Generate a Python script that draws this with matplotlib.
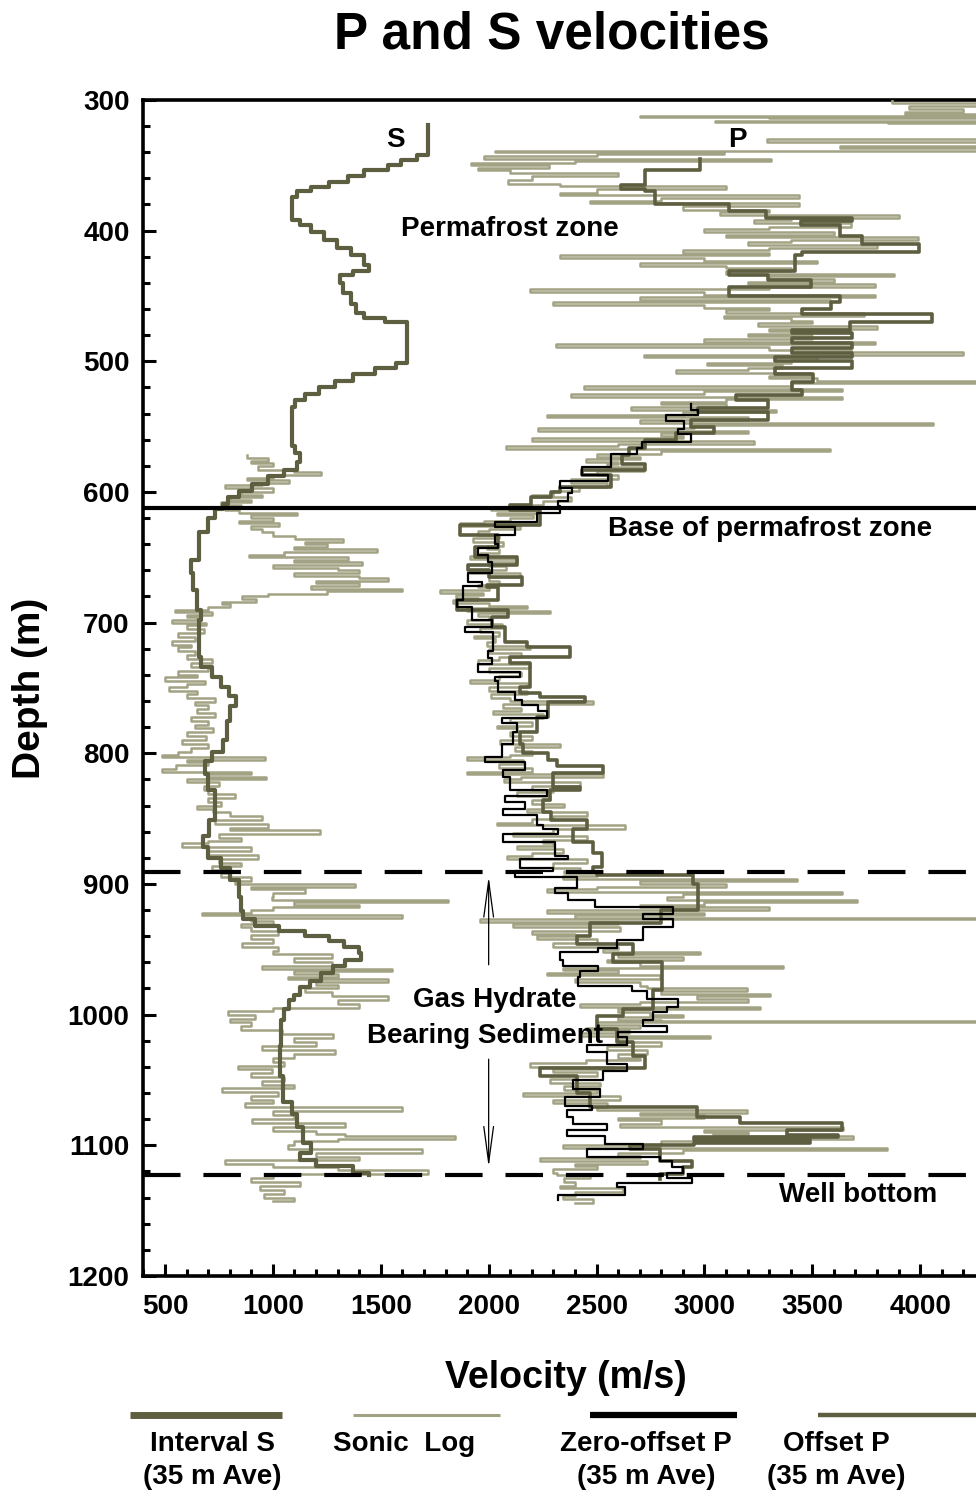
import numpy as np
import matplotlib.pyplot as plt
from matplotlib.lines import Line2D

plt.rcParams['font.family'] = ['Liberation Sans', 'DejaVu Sans']
plt.rcParams['font.weight'] = 'bold'

DARK = '#5e5e40'
LIGHT = '#a2a284'

# (depth m, velocity m/s) -- velocity changes to the given value at that depth
interval_s = [
    (319, 1719), (342, 1668), (346, 1594), (350, 1533), (354, 1422), (358, 1348),
    (363, 1260), (367, 1177), (370, 1112), (374, 1089), (392, 1126), (396, 1177),
    (401, 1237), (407, 1297), (413, 1362), (419, 1422), (426, 1445), (431, 1371),
    (434, 1311), (440, 1325), (448, 1362), (456, 1385), (463, 1422), (467, 1519),
    (470, 1621), (501, 1570), (505, 1473), (510, 1371), (515, 1288), (520, 1214),
    (525, 1149), (530, 1102), (535, 1089), (565, 1102), (570, 1126), (577, 1112),
    (583, 1051), (588, 977), (594, 903), (599, 843), (604, 792), (609, 769),
    (613, 732), (620, 700), (631, 658), (652, 620), (662, 630), (675, 650),
    (690, 667), (698, 658), (726, 665), (734, 718), (742, 760), (749, 795),
    (756, 830), (764, 800), (775, 785), (790, 770), (799, 718), (806, 685),
    (816, 700), (828, 732), (840, 730), (851, 705), (863, 676), (872, 700),
    (880, 760), (888, 800), (897, 843), (910, 850), (921, 860), (927, 917),
    (932, 1028), (936, 1149), (940, 1260), (944, 1330), (948, 1399), (953, 1408),
    (958, 1334), (963, 1280), (968, 1223), (974, 1170), (979, 1126), (985, 1100),
    (989, 1075), (996, 1050), (1004, 1038), (1024, 1033), (1047, 1047),
    (1067, 1089), (1076, 1110), (1086, 1139), (1098, 1177), (1106, 1126),
    (1111, 1200), (1116, 1371), (1121, 1445), (1123, 1445),
]

offset_p = [
    (345, 2979), (354, 2724), (365, 2613), (368, 2724), (370, 2771), (380, 3114),
    (385, 3285), (390, 3684), (393, 3447), (396, 3628), (404, 3730), (410, 3994),
    (416, 3452), (419, 3419), (431, 3114), (434, 3294), (438, 3494), (443, 3114),
    (450, 3628), (455, 3586), (460, 3452), (464, 4054), (470, 3674), (476, 3405),
    (478, 3684), (482, 3405), (486, 3684), (490, 3405), (494, 3684), (497, 3327),
    (500, 3684), (505, 3327), (510, 3503), (516, 3405), (522, 3452), (526, 3146),
    (530, 3294), (536, 2970), (539, 3294), (545, 2938), (550, 3044), (555, 2868),
    (560, 2724), (566, 2650), (572, 2620), (579, 2724), (583, 2432), (587, 2567),
    (596, 2330), (600, 2289), (604, 2196), (610, 2100), (614, 2238), (625, 1867),
    (633, 2043), (642, 1937), (650, 2131), (656, 1904), (660, 2000), (665, 2154),
    (671, 1992), (673, 2043), (683, 1853), (690, 2089), (696, 2015), (703, 2076),
    (715, 2177), (719, 2377), (726, 2099), (731, 2191), (749, 2145), (754, 2238),
    (757, 2446), (761, 2275), (772, 2224), (784, 2145), (793, 2159), (800, 2275),
    (805, 2317), (810, 2530), (815, 2298), (826, 2423), (828, 2284), (836, 2252),
    (845, 2290), (851, 2456), (858, 2391), (868, 2483), (876, 2525), (887, 2483),
    (891, 2502), (893, 2947), (900, 2970), (920, 2800), (930, 2469), (940, 2409),
    (946, 2669), (954, 2576), (960, 2803), (981, 2761), (996, 2622), (1001, 2502),
    (1011, 2595), (1021, 2669), (1032, 2724), (1041, 2238), (1047, 2409),
    (1060, 2469), (1071, 2965), (1078, 3165), (1083, 3637), (1088, 3382),
    (1092, 3619), (1094, 2950), (1096, 3489), (1098, 2950), (1100, 2655),
    (1103, 2794), (1112, 2942), (1117, 2900), (1122, 2794), (1126, 2794),
]

zero_offset_p = [
    (533, 2938), (537, 2970), (541, 2822), (546, 2905), (552, 2877), (556, 2938),
    (562, 2710), (566, 2687), (571, 2567), (581, 2432), (587, 2553), (592, 2330),
    (597, 2386), (601, 2367), (607, 2321), (611, 2330), (616, 2224), (623, 2029),
    (627, 2122), (633, 2029), (640, 2043), (643, 1950), (648, 1997), (654, 2015),
    (662, 1904), (669, 1969), (672, 1881), (683, 1853), (688, 1923), (698, 2015),
    (703, 1890), (707, 2020), (722, 1997), (727, 2015), (732, 1950), (738, 2145),
    (742, 2029), (745, 2043), (753, 2122), (759, 2154), (763, 2228), (768, 2270),
    (773, 2061), (777, 2131), (784, 2112), (793, 2061), (803, 1983), (807, 2168),
    (813, 2066), (818, 2099), (828, 2270), (833, 2076), (837, 2168), (843, 2066),
    (847, 2224), (855, 2252), (858, 2321), (862, 2066), (868, 2307), (879, 2367),
    (881, 2145), (888, 2300), (890, 2122), (895, 2409), (903, 2307), (907, 2367),
    (912, 2493), (918, 2854), (923, 2715), (927, 2854), (933, 2715), (943, 2595),
    (949, 2507), (952, 2330), (958, 2344), (963, 2507), (967, 2423), (971, 2414),
    (978, 2664), (982, 2734), (988, 2877), (994, 2826), (998, 2761), (1004, 2715),
    (1009, 2826), (1013, 2599), (1017, 2641), (1023, 2456), (1029, 2548),
    (1038, 2641), (1043, 2530), (1050, 2391), (1057, 2516), (1063, 2354),
    (1070, 2479), (1073, 2363), (1078, 2391), (1084, 2548), (1088, 2363),
    (1093, 2539), (1099, 2715), (1103, 2456), (1109, 2794), (1112, 2849),
    (1117, 2900), (1121, 2826), (1125, 2942), (1129, 2595), (1132, 2632),
    (1138, 2321), (1142, 2321),
]

sonic_p = [
    (300, 3870), (302, 4400), (305, 3950), (307, 4200), (309, 3930), (311, 4400),
    (312, 2700), (313, 3300), (314, 4400), (316, 3050), (317, 3850), (318, 4400),
    (330, 3290), (332, 4400), (335, 3630), (337, 4400), (339, 2030), (340, 3090),
    (341, 2500), (343, 1980), (345, 3310), (347, 2400), (348, 1920), (350, 2280),
    (352, 1950), (354, 2100), (356, 2600), (358, 2200), (361, 2090), (364, 2330),
    (366, 3100), (368, 2500), (371, 2330), (373, 3440), (375, 2800), (377, 2470),
    (379, 3440), (381, 2900), (384, 3300), (386, 3070), (388, 3900), (390, 3400),
    (392, 3230), (394, 3680), (397, 3300), (399, 3000), (401, 3600), (403, 3100),
    (405, 3990), (407, 3400), (409, 3200), (411, 3800), (413, 3300), (415, 2900),
    (417, 3300), (419, 2330), (421, 3000), (423, 3520), (425, 2700), (427, 3100),
    (429, 3400), (431, 3100), (433, 3880), (435, 3300), (437, 3600), (439, 3200),
    (441, 3790), (443, 3300), (445, 2190), (447, 3000), (449, 3790), (451, 2700),
    (453, 3580), (455, 2300), (457, 3000), (459, 3300), (461, 3100), (463, 3740),
    (465, 3090), (467, 3400), (469, 3500), (471, 3250), (473, 3800), (475, 3300),
    (477, 3500), (479, 3200), (481, 3500), (483, 3000), (485, 3790), (487, 2310),
    (489, 3300), (491, 3680), (493, 4200), (495, 2720), (497, 3520), (499, 3400),
    (501, 3010), (503, 3360), (505, 3200), (507, 2870), (509, 3490), (511, 3300),
    (513, 3520), (515, 4400), (517, 3400), (519, 2440), (521, 3640), (523, 3000),
    (525, 2380), (527, 3640), (529, 3100), (531, 2800), (533, 3100), (535, 2660),
    (537, 3330), (539, 2900), (541, 2270), (543, 3200), (545, 2700), (547, 4060),
    (549, 2950), (551, 2230), (553, 3200), (555, 2800), (557, 2900), (559, 2200),
    (561, 3230), (563, 2600), (565, 2080), (567, 3580), (569, 2800), (571, 2500),
    (573, 2700), (575, 2450), (577, 2600), (579, 2550), (581, 2720), (584, 2500),
    (587, 2600), (590, 2380), (593, 2550), (596, 2420), (599, 2300), (602, 2200),
    (604, 2380), (607, 2250), (610, 2150), (612, 2010), (614, 2230), (616, 2037),
    (618, 2207), (620, 2100), (622, 1980), (624, 1867), (626, 2146), (628, 2000),
    (630, 1950), (633, 2050), (635, 1929), (638, 2068), (641, 1990), (644, 2050),
    (647, 1960), (649, 1914), (651, 2130), (654, 2000), (657, 2080), (660, 1914),
    (662, 2146), (665, 2000), (668, 2050), (671, 1950), (673, 2000), (675, 1775),
    (677, 1976), (679, 1850), (681, 1950), (683, 1837), (685, 2000), (687, 2180),
    (689, 1900), (691, 2285), (693, 1950), (695, 2000), (698, 1900), (701, 2060),
    (704, 1960), (707, 2050), (710, 1930), (712, 2030), (715, 1990), (718, 2190),
    (720, 2000), (723, 2150), (726, 2050), (729, 1950), (732, 2190), (735, 2000),
    (738, 2150), (741, 2050), (744, 1914), (746, 2180), (749, 2000), (752, 2180),
    (755, 2010), (758, 2100), (760, 2485), (762, 2068), (765, 2150), (768, 2020),
    (770, 2250), (773, 2100), (776, 2200), (779, 2040), (781, 2130), (784, 2100),
    (787, 2200), (790, 2053), (793, 2331), (795, 2120), (798, 2200), (801, 2100),
    (803, 1898), (805, 2161), (808, 2050), (811, 2200), (814, 1898), (816, 2532),
    (818, 2150), (820, 2069), (822, 2425), (825, 2200), (828, 2300), (830, 2130),
    (833, 2284), (836, 2200), (839, 2350), (841, 2250), (843, 2176), (845, 2455),
    (848, 2300), (850, 2200), (853, 2037), (855, 2632), (858, 2300), (861, 2114),
    (863, 2455), (866, 2250), (869, 2300), (871, 2130), (873, 2346), (876, 2200),
    (879, 2084), (881, 2455), (884, 2300), (886, 2300), (888, 2424), (890, 2350),
    (892, 2500), (894, 2346), (896, 3428), (898, 2700), (900, 3100), (902, 2500),
    (904, 2269), (906, 3636), (908, 2900), (910, 2825), (912, 3706), (914, 3000),
    (916, 2700), (918, 3300), (920, 2269), (922, 3000), (924, 2400), (926, 4400),
    (927, 1960), (929, 2600), (931, 2115), (933, 2609), (936, 2200), (938, 2400),
    (940, 2223), (942, 2500), (945, 2300), (948, 2600), (950, 2532), (952, 2980),
    (954, 2600), (956, 2900), (958, 2550), (960, 2700), (963, 3366), (964, 2346),
    (966, 2600), (968, 2269), (970, 2794), (973, 2400), (975, 2700), (978, 2733),
    (980, 3196), (982, 2800), (984, 3304), (986, 2964), (988, 3200), (990, 2700),
    (992, 2423), (994, 3258), (996, 2600), (998, 2750), (1000, 2900), (1002, 2600),
    (1004, 2800), (1005, 4400), (1006, 2500), (1008, 2700), (1010, 2450),
    (1012, 2650), (1014, 2424), (1016, 3026), (1018, 2600), (1021, 2800),
    (1024, 2547), (1027, 2733), (1030, 2600), (1033, 2700), (1035, 2450),
    (1037, 2192), (1040, 2578), (1042, 2300), (1044, 2500), (1047, 2400),
    (1049, 2284), (1052, 2516), (1055, 2350), (1058, 2500), (1060, 2161),
    (1062, 2609), (1065, 2300), (1068, 2550), (1071, 2501), (1073, 3196),
    (1075, 2700), (1077, 3000), (1079, 2600), (1081, 2800), (1084, 2609),
    (1086, 3644), (1088, 3000), (1090, 3200), (1091, 3042), (1093, 3690),
    (1095, 3100), (1097, 2800), (1100, 2346), (1102, 3845), (1104, 2900),
    (1106, 2600), (1108, 2700), (1110, 2238), (1112, 2733), (1114, 2400),
    (1116, 2500), (1118, 2300), (1121, 2315), (1123, 2470), (1125, 2350),
    (1128, 2400), (1131, 2331), (1133, 2624), (1136, 2400), (1139, 2346),
    (1141, 2485), (1144, 2400),
]

sonic_s = [
    (572, 880), (574, 977), (576, 900), (578, 1000), (580, 930), (583, 1100),
    (585, 1223), (587, 1000), (589, 880), (591, 1075), (593, 950), (595, 778),
    (597, 1000), (600, 850), (602, 950), (604, 800), (606, 900), (608, 760),
    (610, 850), (612, 780), (614, 843), (616, 1112), (618, 900), (620, 1000),
    (622, 843), (624, 1028), (626, 900), (628, 950), (631, 1000), (634, 1102),
    (636, 1325), (638, 1150), (640, 1250), (642, 1100), (644, 1482), (646, 1051),
    (648, 889), (650, 1348), (652, 1100), (654, 1411), (656, 1000), (658, 1300),
    (660, 1399), (662, 1100), (664, 1400), (666, 1533), (668, 1200), (670, 1400),
    (672, 1177), (674, 1597), (676, 1250), (678, 979), (680, 855), (682, 920),
    (684, 762), (686, 800), (688, 700), (690, 546), (692, 716), (694, 600),
    (696, 650), (698, 532), (700, 690), (702, 600), (705, 680), (708, 560),
    (711, 639), (714, 531), (717, 620), (719, 560), (722, 640), (725, 600),
    (728, 716), (731, 620), (734, 700), (737, 560), (740, 650), (742, 500),
    (745, 685), (747, 600), (749, 520), (752, 650), (755, 600), (758, 730),
    (761, 640), (763, 700), (766, 650), (769, 730), (772, 620), (775, 700),
    (778, 640), (781, 720), (784, 600), (787, 690), (790, 577), (793, 700),
    (796, 620), (799, 560), (801, 484), (803, 963), (805, 600), (807, 700),
    (809, 550), (812, 484), (814, 900), (816, 700), (818, 970), (820, 600),
    (822, 750), (825, 680), (828, 700), (831, 823), (834, 700), (837, 760),
    (840, 650), (843, 720), (845, 800), (848, 950), (851, 730), (854, 978),
    (857, 800), (859, 1218), (862, 750), (865, 850), (867, 700), (869, 577),
    (872, 900), (875, 700), (878, 930), (881, 750), (884, 850), (886, 716),
    (889, 808), (892, 760), (895, 900), (898, 824), (900, 1380), (902, 900),
    (904, 1150), (907, 1000), (910, 994), (912, 1813), (914, 1100), (916, 1400),
    (918, 1000), (920, 900), (922, 670), (924, 1597), (926, 900), (928, 1000),
    (931, 850), (933, 900), (936, 1025), (939, 900), (942, 1000), (945, 855),
    (948, 1025), (951, 1000), (954, 1272), (957, 1100), (960, 1272), (963, 948),
    (965, 1550), (967, 1100), (969, 1300), (971, 1071), (973, 1535), (975, 1200),
    (977, 1300), (980, 1150), (983, 1272), (986, 1535), (989, 1300), (992, 1400),
    (995, 1000), (997, 793), (1000, 917), (1003, 800), (1006, 900), (1009, 850),
    (1012, 1040), (1015, 1280), (1018, 1100), (1021, 1200), (1024, 948),
    (1027, 1287), (1030, 1100), (1033, 1000), (1036, 1050), (1039, 840),
    (1042, 994), (1045, 900), (1048, 1050), (1051, 950), (1054, 1100), (1056, 762),
    (1059, 1025), (1062, 900), (1065, 1000), (1068, 870), (1071, 1597),
    (1074, 1000), (1077, 1100), (1080, 901), (1083, 1334), (1086, 1000),
    (1089, 1200), (1091, 1334), (1093, 1844), (1095, 1300), (1097, 1100),
    (1100, 1071), (1103, 1690), (1106, 1200), (1109, 1400), (1111, 778),
    (1114, 1000), (1117, 1300), (1119, 1719), (1122, 1000), (1125, 900),
    (1128, 1126), (1131, 940), (1134, 1050), (1137, 960), (1140, 1100),
    (1143, 1000),
]

permafrost_base = 612
hydrate_top = 891
well_bottom = 1123

fig = plt.figure(figsize=(9.76, 15.05), dpi=100)
# the velocity axis runs on past the right edge of the figure
ax = fig.add_axes([0.147, 0.1522, 0.9063, 0.7814])


def log_line(pairs, **kw):
    d, v = np.array(pairs).T
    ax.plot(v, d, drawstyle='steps-pre', **kw)


log_line(sonic_p, color=LIGHT, lw=1.8, zorder=3)
log_line(sonic_s, color=LIGHT, lw=1.8, zorder=3)
log_line(offset_p, color=DARK, lw=2.6, zorder=4)
log_line(zero_offset_p, color='black', lw=1.6, zorder=5)
log_line(interval_s, color=DARK, lw=3.0, zorder=5)

ax.axhline(permafrost_base, color='black', lw=3.0, zorder=6)
for dep in (hydrate_top, well_bottom):
    ax.axhline(dep, color='black', lw=3.0, dashes=(9, 5.5), zorder=6)

# double arrow spanning the hydrate bearing interval
arrow_kw = dict(arrowstyle='->,head_length=2.6,head_width=0.35', color='black', lw=0.9)
ax.annotate('', xy=(2000, hydrate_top + 1), xytext=(2000, 964), arrowprops=arrow_kw)
ax.annotate('', xy=(2000, well_bottom - 4), xytext=(2000, 1032), arrowprops=arrow_kw)

txt = dict(fontsize=20, fontweight='bold', ha='center', va='center', zorder=7)
ax.text(1566, 331, 'S', **txt)
ax.text(3151, 331, 'P', **txt)
ax.text(2099, 399, 'Permafrost zone', **txt)
ax.text(3304, 628, 'Base of permafrost zone', **txt)
ax.text(2029, 989, 'Gas Hydrate', **txt)
ax.text(1983, 1016, 'Bearing Sediment', **txt)
ax.text(3711, 1138, 'Well bottom', **txt)

ax.set_xlim(400, 4500)
ax.set_ylim(1200, 300)
ax.set_xticks(np.arange(500, 4001, 500))
ax.set_xticks(np.arange(400, 4501, 100), minor=True)
ax.set_yticks(np.arange(300, 1201, 100))
ax.set_yticks(np.arange(300, 1201, 20), minor=True)
ax.tick_params(which='both', direction='in', width=2.2, labelsize=20)
ax.tick_params(which='major', length=9)
ax.tick_params(which='minor', length=5)
ax.tick_params(axis='y', pad=10)
ax.tick_params(axis='x', pad=13)
for lab in ax.get_xticklabels() + ax.get_yticklabels():
    lab.set_fontweight('bold')
for side in ('left', 'bottom', 'top'):
    ax.spines[side].set_linewidth(2.6)
ax.spines['right'].set_visible(False)

ax.set_ylabel('Depth (m)', fontsize=28, fontweight='bold', labelpad=14)
fig.text(566 / 976, 1 - 1378 / 1505, 'Velocity (m/s)', fontsize=27,
         fontweight='bold', ha='center', va='center')
fig.text(552 / 976, 1 - 35 / 1505, 'P and S velocities', fontsize=37,
         fontweight='bold', ha='center', va='center')

# legend row under the axis
W, H = 976, 1505
legend_items = [
    (130, 282, DARK, 5.0, 'Interval S\n(35 m Ave)', 212),
    (353, 500, LIGHT, 2.2, 'Sonic  Log', 404),
    (590, 737, 'black', 4.5, 'Zero-offset P\n(35 m Ave)', 646),
    (818, 976, DARK, 3.2, 'Offset P\n(35 m Ave)', 836),
]
for x0, x1, col, lw, label, xc in legend_items:
    fig.add_artist(Line2D([x0 / W, x1 / W], [1 - 1415 / H] * 2, color=col, lw=lw,
                          transform=fig.transFigure, solid_capstyle='butt'))
    fig.text(xc / W, 1 - 1431 / H, label, fontsize=20, fontweight='bold',
             ha='center', va='top', linespacing=1.35)

fig.savefig('out.png', dpi=100)
